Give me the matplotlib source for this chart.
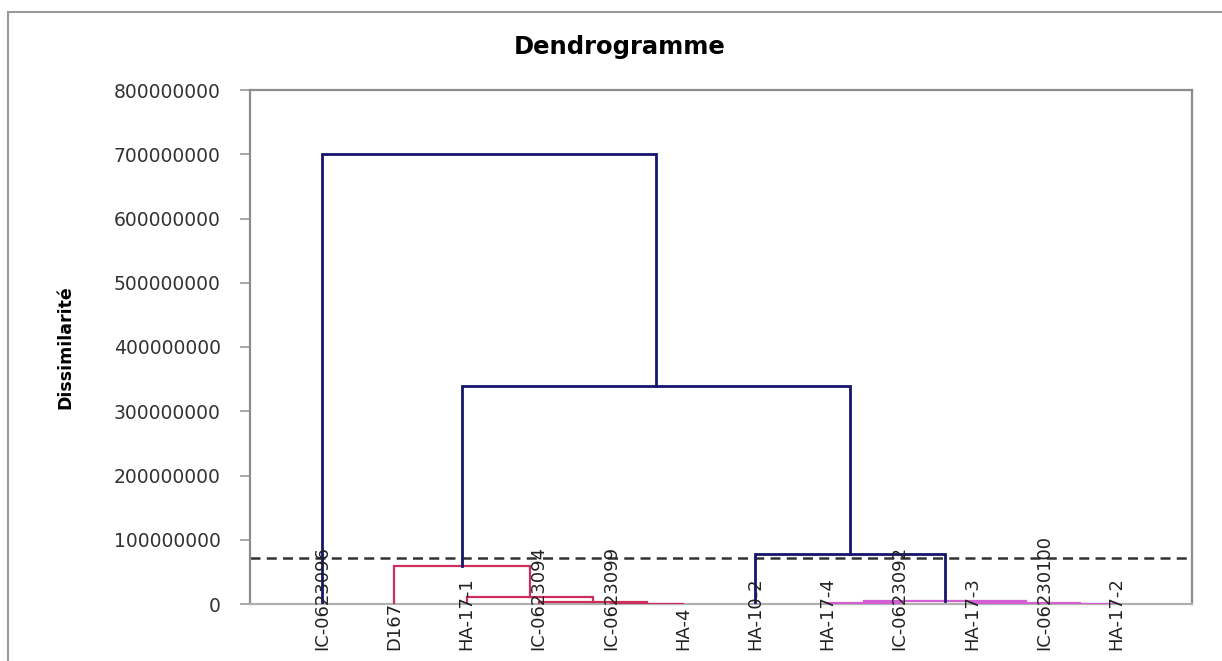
import matplotlib
matplotlib.use("Agg")
import matplotlib.pyplot as plt
from matplotlib.lines import Line2D

# Feuilles dans l'ordre d'affichage
feuilles = ["IC-0623096", "D167", "HA-17-1", "IC-0623094", "IC-0623099", "HA-4",
            "HA-10-2", "HA-17-4", "IC-0623092", "HA-17-3", "IC-06230100", "HA-17-2"]

# Fusions : enfant gauche, enfant droit, niveau de dissimilarité
fusion_gauche = ["IC-0623099", "IC-0623094", "HA-17-1", "D167", "HA-17-4", "IC-06230100",
                 "HA-17-3", "n4", "HA-10-2", "n3", "IC-0623096"]
fusion_droite = ["HA-4", "n0", "n1", "n2", "IC-0623092", "HA-17-2",
                 "n5", "n6", "n7", "n8", "n9"]
fusion_niveau = [0.5e6, 3e6, 11e6, 59e6, 1e6, 0.5e6, 2e6, 5e6, 78e6, 340e6, 700e6]

seuil = 72e6
yticks = [0, 100000000, 200000000, 300000000, 400000000,
          500000000, 600000000, 700000000, 800000000]

bleu = "#15156e"
palette = ["#cc2f5c", "#d45fd2"]

fig = plt.figure(figsize=(12.22, 6.61), dpi=100)
ax = fig.add_axes([250 / 1222, 1 - 604 / 661, (1192 - 250) / 1222, (604 - 90) / 661])

# positions x et hauteurs
pos = {nom: i + 1 for i, nom in enumerate(feuilles)}
haut = {nom: 0.0 for nom in feuilles}
for k, (g, d, h) in enumerate(zip(fusion_gauche, fusion_droite, fusion_niveau)):
    pos[f"n{k}"] = (pos[g] + pos[d]) / 2
    haut[f"n{k}"] = h

# couleurs : au-dessus du seuil en bleu, sinon couleur du groupe (de gauche à droite)
couleur = {}
racines = []
for k in range(len(fusion_niveau) - 1, -1, -1):
    nom = f"n{k}"
    if fusion_niveau[k] >= seuil:
        couleur[nom] = bleu
        for enfant in (fusion_gauche[k], fusion_droite[k]):
            if enfant.startswith("n") and haut[enfant] < seuil:
                racines.append(enfant)
for i, r in enumerate(sorted(racines, key=lambda n: pos[n])):
    couleur[r] = palette[i % len(palette)]
for k in range(len(fusion_niveau) - 1, -1, -1):
    nom = f"n{k}"
    if fusion_niveau[k] < seuil:
        for enfant in (fusion_gauche[k], fusion_droite[k]):
            if enfant.startswith("n"):
                couleur[enfant] = couleur[nom]

for k, (g, d, h) in enumerate(zip(fusion_gauche, fusion_droite, fusion_niveau)):
    c = couleur[f"n{k}"]
    lw = 2.0 if c == bleu else 1.6
    ax.plot([pos[g], pos[g], pos[d], pos[d]], [haut[g], h, h, haut[d]],
            color=c, lw=lw, solid_joinstyle="miter", zorder=3)

ax.axhline(seuil, color="#333333", lw=1.8, ls=(0, (4, 2.5)), zorder=2)

ax.set_xlim(0, 13.05)
ax.set_ylim(0, 800000000)
ax.set_yticks(yticks)
ax.set_yticklabels([str(v) for v in yticks], fontsize=13.5, color="#333333")
ax.set_xticks([])
ax.tick_params(axis="y", length=7, width=1.2, color="#999999", pad=14)

for s in ax.spines.values():
    s.set_color("#8c8c8c")
    s.set_linewidth(1.6)
ax.spines["bottom"].set_color("#b0b0b0")

narrow = ["Liberation Sans Narrow", "DejaVu Sans Condensed", "DejaVu Sans"]
for nom in feuilles:
    ax.text(pos[nom], -0.0895, nom, transform=ax.get_xaxis_transform(),
            rotation=90, ha="center", va="bottom", fontsize=13,
            family=narrow, color="#222222", zorder=4)

ax.set_ylabel("Dissimilarité", fontsize=12.5, fontweight="bold", family=narrow)
ax.yaxis.set_label_coords(-0.186, 0.5)

fig.text(620 / 1222, 1 - 47 / 661, "Dendrogramme", ha="center", va="center",
         fontsize=17.5, fontweight="bold")

# cadre extérieur du graphique
fig.add_artist(Line2D([8 / 1222, 8 / 1222], [0, 1 - 12 / 661], color="#9a9a9a", lw=1.5))
fig.add_artist(Line2D([8 / 1222, 1], [1 - 12 / 661, 1 - 12 / 661], color="#9a9a9a", lw=1.5))

fig.savefig("out.png", dpi=100)
